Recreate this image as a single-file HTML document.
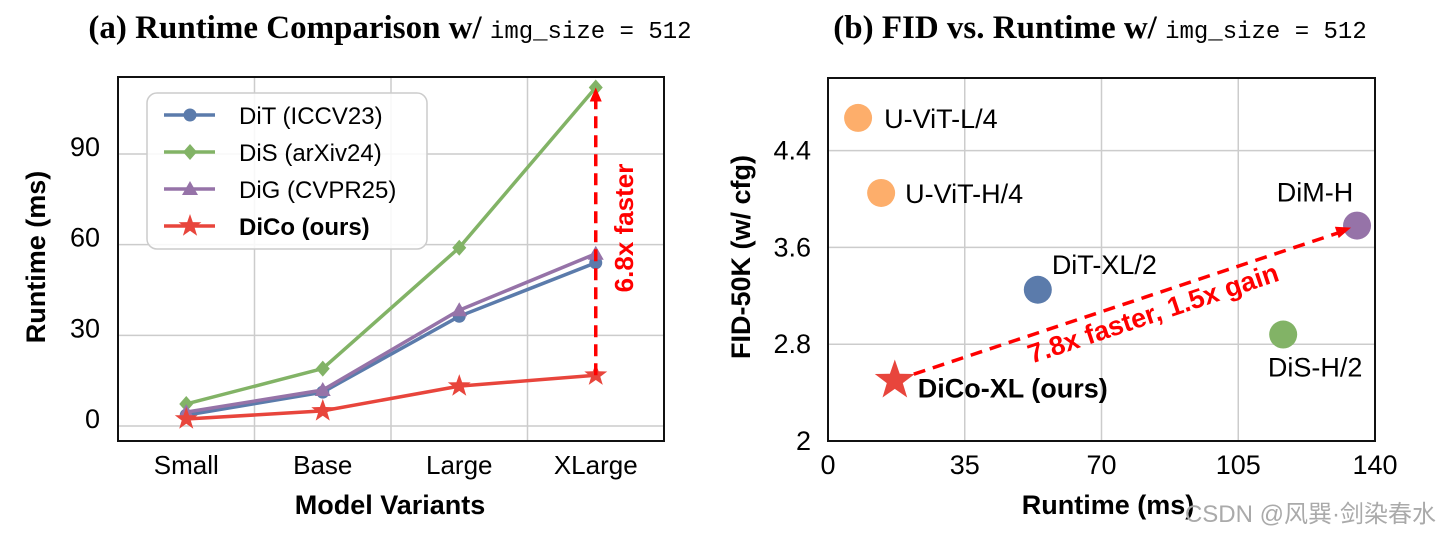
<!DOCTYPE html>
<html><head><meta charset="utf-8"><style>
body{margin:0;background:#fff;width:1440px;height:537px;overflow:hidden}
svg{font-family:"Liberation Sans",sans-serif}
</style></head><body>
<svg width="1440" height="537">
<g id="a"></g><g id="b"></g>
<text x="1436" y="522" text-anchor="end" font-size="24" fill="#aaa" font-family="Liberation Sans,Noto Sans CJK SC,sans-serif">CSDN @风巽·剑染春水</text>
</svg>
<script>
const NS='http://www.w3.org/2000/svg';
// ---- Chart (a) data ----
const categories=['Small','Base','Large','XLarge'];
const seriesNames=['DiT (ICCV23)','DiS (arXiv24)','DiG (CVPR25)','DiCo (ours)'];
const ditValues=[3.6,11.2,36.3,54];
const disValues=[7.3,19,59,112];
const digValues=[4.6,11.9,38.3,57];
const dicoValues=[2.3,5,13.2,16.8];
const yTicksA=[0,30,60,90];
// ---- Chart (b) data ----
const modelNames=['U-ViT-L/4','U-ViT-H/4','DiM-H','DiT-XL/2','DiS-H/2'];
const modelRuntime=[7.7,13.6,135.4,53.7,116.5];
const modelFid=[4.67,4.05,3.78,3.25,2.88];
const modelColors=['#fdae6b','#fdae6b','#9673a8','#5b7bab','#82b366'];
const dicoRuntime=17.1, dicoFid=2.5;
const xTicksB=[0,35,70,105,140];
const yTicksB=[2,2.8,3.6,4.4];

function el(p,t,a,txt){const e=document.createElementNS(NS,t);for(const k in a)e.setAttribute(k,a[k]);if(txt!==undefined)e.textContent=txt;p.appendChild(e);return e;}
function star(cx,cy,r){let p=[];for(let i=0;i<10;i++){const rr=i%2?r*0.4:r;const a=-Math.PI/2+i*Math.PI/5;p.push((cx+rr*Math.cos(a)).toFixed(1)+','+(cy+rr*Math.sin(a)).toFixed(1));}return p.join(' ');}

// ===== Chart A =====
const A=document.getElementById('a');
const ax={l:118,r:664,t:77,b:441};
const xA=i=>ax.l+(i+0.5)*(ax.r-ax.l)/4;
const yA=v=>426-v*(426-154)/90;
let t=el(A,'text',{x:390,y:38,'text-anchor':'middle','font-size':33,'font-weight':'bold','font-family':'Liberation Serif,serif'});

el(t,'tspan',{},'(a) Runtime Comparison w/ ');el(t,'tspan',{'font-family':'Liberation Mono,monospace','font-weight':'normal','font-size':24},'img_size = 512');
for(let i=0;i<3;i++){const l=el(A,'line',{x1:xA(i+0.5),x2:xA(i+0.5),y1:ax.t,y2:ax.b,stroke:'#ccc','stroke-width':1.5});}
yTicksA.forEach(v=>{const l=el(A,'line',{x1:ax.l,x2:ax.r,y1:yA(v),y2:yA(v),stroke:'#ccc','stroke-width':1.5});
const tx=el(A,'text',{x:100,y:yA(v)+2,'text-anchor':'end','font-size':27},String(v));});
categories.forEach((c,i)=>{const tx=el(A,'text',{x:xA(i),y:474,'text-anchor':'middle','font-size':26},c);});
let at=el(A,'text',{x:390,y:514,'text-anchor':'middle','font-size':27,'font-weight':'bold'},'Model Variants');
at=el(A,'text',{transform:'translate(45,257) rotate(-90)','text-anchor':'middle','font-size':27,'font-weight':'bold'},'Runtime (ms)');
const series=[[ditValues,'#5b7bab','o'],[disValues,'#82b366','d'],[digValues,'#9673a8','^'],[dicoValues,'#e8453c','*']];
function marker(p,m,x,y,c,s){
 if(m==='o')return el(p,'circle',{cx:x,cy:y,r:6.5*s,fill:c});
 if(m==='d')return el(p,'polygon',{points:`${x},${y-8*s} ${x+7*s},${y} ${x},${y+8*s} ${x-7*s},${y}`,fill:c});
 if(m==='^')return el(p,'polygon',{points:`${x},${y-8*s} ${x+8*s},${y+6*s} ${x-8*s},${y+6*s}`,fill:c});
 return el(p,'polygon',{points:star(x,y,12*s),fill:c});}
series.forEach(([vals,c,m],si)=>{
 const g=el(A,'g',{});
 el(g,'polyline',{points:vals.map((v,i)=>xA(i)+','+yA(v)).join(' '),fill:'none',stroke:c,'stroke-width':3.5});
 vals.forEach((v,i)=>{const mk=marker(g,m,xA(i),yA(v),c,1);});
});
// arrow
const axX=xA(3);
let ar=el(A,'line',{x1:axX,x2:axX,y1:yA(dicoValues[3]),y2:yA(disValues[3])+12,stroke:'#f00','stroke-width':3.5,'stroke-dasharray':'12,7'});
el(A,'polygon',{points:`${axX},${yA(disValues[3])} ${axX-6},${yA(disValues[3])+14} ${axX+6},${yA(disValues[3])+14}`,fill:'#f00'});
at=el(A,'text',{transform:'translate(633,228) rotate(-90)','text-anchor':'middle','font-size':26,'font-weight':'bold',fill:'#f00'},'6.8x faster');
el(A,'rect',{x:ax.l,y:ax.t,width:ax.r-ax.l,height:ax.b-ax.t,fill:'none',stroke:'#111','stroke-width':2});
// legend
const lg=el(A,'g',{});
el(lg,'rect',{x:147,y:93,width:280,height:156,rx:10,fill:'rgba(255,255,255,0.85)',stroke:'#ccc','stroke-width':1.5});
series.forEach(([vals,c,m],i)=>{const y=115+i*37;const e=el(lg,'g',{});
 el(e,'line',{x1:164,x2:215,y1:y,y2:y,stroke:c,'stroke-width':3.5});marker(e,m,190,y,c,1);
 el(e,'text',{x:239,y:y+9,'font-size':24,'font-weight':i===3?'bold':'normal'},seriesNames[i]);});

// ===== Chart B =====
const B=document.getElementById('b');
const bx={l:828,r:1375,t:78,b:441};
const xB=v=>bx.l+v*(bx.r-bx.l)/140;
const yB=v=>bx.b-(v-2)*(bx.b-bx.t)/3;
t=el(B,'text',{x:1100,y:38,'text-anchor':'middle','font-size':33,'font-weight':'bold','font-family':'Liberation Serif,serif'});

el(t,'tspan',{},'(b) FID vs. Runtime w/ ');el(t,'tspan',{'font-family':'Liberation Mono,monospace','font-weight':'normal','font-size':24},'img_size = 512');
xTicksB.forEach(v=>{if(v>0&&v<140){const l=el(B,'line',{x1:xB(v),x2:xB(v),y1:bx.t,y2:bx.b,stroke:'#ccc','stroke-width':1.5});}
 const tx=el(B,'text',{x:xB(v),y:474,'text-anchor':'middle','font-size':27},String(v));});
yTicksB.forEach(v=>{if(v>2){const l=el(B,'line',{x1:bx.l,x2:bx.r,y1:yB(v),y2:yB(v),stroke:'#ccc','stroke-width':1.5});}
 const tx=el(B,'text',{x:811,y:yB(v)+9,'text-anchor':'end','font-size':27},String(v));});
at=el(B,'text',{x:1108,y:514,'text-anchor':'middle','font-size':27,'font-weight':'bold'},'Runtime (ms)');
at=el(B,'text',{transform:'translate(750,257) rotate(-90)','text-anchor':'middle','font-size':27,'font-weight':'bold'},'FID-50K (w/ cfg)');
const lblOff=[[26,10,'start'],[24,10,'start'],[-42,-24,'middle'],[14,-16,'start'],[32,42,'middle']];
modelNames.forEach((n,i)=>{const x=xB(modelRuntime[i]),y=yB(modelFid[i]);
 const c=el(B,'ellipse',{cx:x,cy:y,rx:14,ry:14,fill:modelColors[i]});
 const o=lblOff[i];const tx=el(B,'text',{x:x+o[0],y:y+o[1],'text-anchor':o[2],'font-size':27},n);});
const sx=xB(dicoRuntime),sy=yB(dicoFid);
const dimx=xB(modelRuntime[2]),dimy=yB(modelFid[2]);
ar=el(B,'line',{x1:sx,x2:dimx-18,y1:sy,y2:dimy+7,stroke:'#f00','stroke-width':3.5,'stroke-dasharray':'12,8'});
const ang=Math.atan2(dimy-sy,dimx-sx);
const hx=dimx-6,hy=dimy+2;
el(B,'polygon',{points:`${hx},${hy} ${hx-15*Math.cos(ang)+6*Math.sin(ang)},${hy-15*Math.sin(ang)-6*Math.cos(ang)} ${hx-15*Math.cos(ang)-6*Math.sin(ang)},${hy-15*Math.sin(ang)+6*Math.cos(ang)}`,fill:'#f00'});
const st=el(B,'polygon',{points:star(sx,sy,21),fill:'#e8453c'});
at=el(B,'text',{x:sx+23,y:sy+17,'font-size':27,'font-weight':'bold'},'DiCo-XL (ours)');
at=el(B,'text',{transform:`translate(1156,322) rotate(${ang*180/Math.PI})`,'text-anchor':'middle','font-size':27,'font-weight':'bold',fill:'#f00'},'7.8x faster, 1.5x gain');
el(B,'rect',{x:bx.l,y:bx.t,width:bx.r-bx.l,height:bx.b-bx.t,fill:'none',stroke:'#111','stroke-width':2});
</script>
</body></html>
